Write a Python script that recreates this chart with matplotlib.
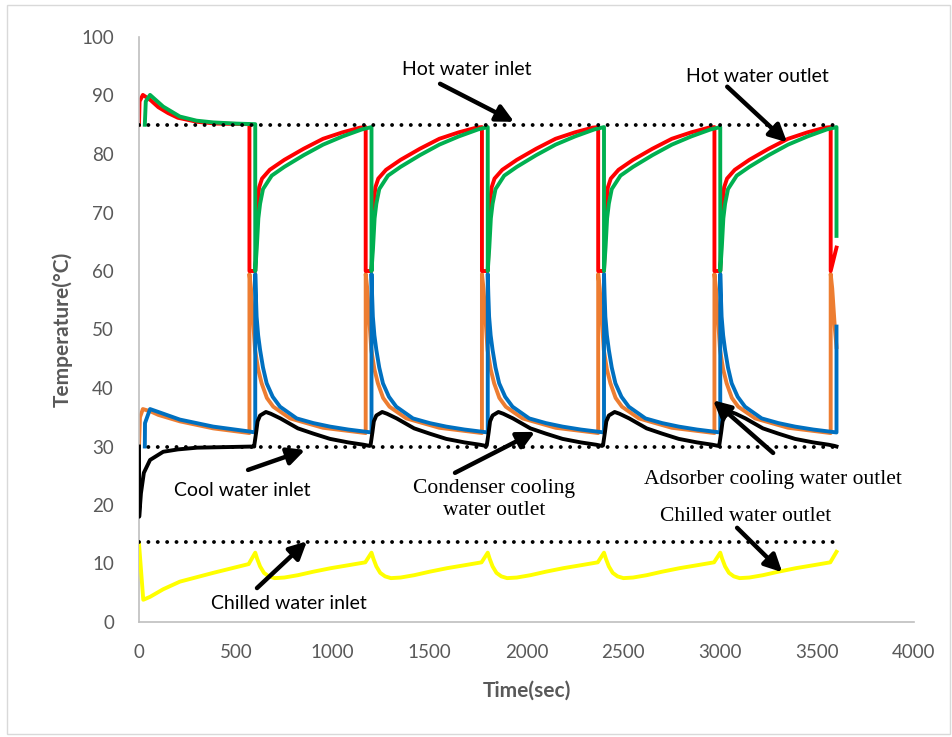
import numpy as np
import matplotlib
matplotlib.use("Agg")
import matplotlib.pyplot as plt
from matplotlib.patches import Rectangle

# cycle switch times (s); the periods look the same in the picture,
# so one period of readings is reused for each of them
cycle_starts = [600, 1200, 1800, 2400, 3000]

# hot water outlet, bed 1 (red)
red_first_t = [0, 3, 20, 60, 100, 150, 200, 300, 400, 570]
red_first_v = [85, 89, 90.1, 89.2, 88, 87, 86.2, 85.5, 85.2, 85.1]
red_tau = [-30, 0, 5, 10, 20, 35, 75, 150, 250, 350, 450, 540, 570]
red_cyc = [60, 60, 65, 71, 74.3, 75.8, 77.3, 79, 80.9, 82.6, 83.7, 84.5, 84.6]
red_tail_t = [3570, 3600]
red_tail_v = [60, 64]

# hot water outlet, bed 2 (green)
green_first_t = [30, 35, 57, 125, 211, 297, 383, 500, 600]
green_first_v = [85, 89, 90.1, 88.1, 86.4, 85.7, 85.4, 85.2, 85.1]
green_tau = [0, 4, 8, 16, 25, 40, 85, 150, 250, 350, 450, 550, 600]
green_cyc = [60, 62, 64, 69, 71.5, 74, 76.3, 77.8, 79.8, 81.6, 83, 84.2, 84.6]
green_tail_t = [3600]
green_tail_v = [66]

# adsorber cooling water outlet, bed 1 (orange)
orange_first_t = [0, 5, 20, 60, 100, 211, 383, 570]
orange_first_v = [30, 35, 36.4, 36, 35.4, 34.3, 33.1, 32.3]
orange_tau = [-30, -22, -15, -8, -1, 15, 33, 60, 93, 180, 350, 570]
orange_cyc = [59.5, 57, 53.5, 50, 46.5, 43.2, 40.8, 38.3, 36.8, 34.8, 33.2, 32.3]
orange_tail_t = [3570, 3578, 3585, 3592, 3600]
orange_tail_v = [59.5, 57, 53.5, 50, 47]

# adsorber cooling water outlet, bed 2 (blue)
blue_first_t = [30, 31, 57, 100, 211, 383, 562, 600]
blue_first_v = [30, 34, 36.4, 35.9, 34.6, 33.4, 32.6, 32.4]
blue_tau = [0, 3, 7, 15, 25, 40, 59, 90, 128, 214, 300, 386, 480, 600]
blue_cyc = [59.5, 56, 52.2, 49, 46.5, 43.5, 40.8, 38.5, 36.8, 34.8, 34, 33.4, 32.9, 32.4]
blue_tail_t = [3600]
blue_tail_v = [50.5]

# condenser cooling water outlet (black)
black_first_t = [0, 1, 10, 25, 57, 125, 200, 300, 450, 595]
black_first_v = [30, 18, 22, 25.5, 27.7, 29.1, 29.5, 29.8, 29.9, 30]
black_tau = [-5, 5, 12, 25, 55, 80, 130, 220, 300, 386, 480, 560, 590]
black_cyc = [30.2, 32.5, 34.3, 35.3, 35.9, 35.6, 34.8, 33.1, 32.2, 31.3, 30.7, 30.3, 30.1]
black_tail_t = [3600]
black_tail_v = [30.0]

# chilled water outlet (yellow)
yellow_first_t = [0, 22, 57, 125, 211, 383, 566]
yellow_first_v = [13.4, 3.8, 4.3, 5.6, 6.9, 8.4, 9.9]
yellow_tau = [0, 10, 25, 45, 70, 100, 150, 220, 300, 390, 480, 568]
yellow_cyc = [11.85, 10.8, 9.5, 8.4, 7.8, 7.5, 7.6, 8.0, 8.6, 9.2, 9.7, 10.2]
yellow_tail_t = [3600]
yellow_tail_v = [12.0]

# inlet set points (dotted lines)
hot_inlet = 85
cool_inlet = 30
chilled_inlet = 13.6
inlet_t = [0, 3600]


def build(first_t, first_v, tau, cyc, tail_t, tail_v):
    t = list(first_t)
    v = list(first_v)
    for s in cycle_starts:
        t += [s + x for x in tau]
        v += list(cyc)
    return np.array(t + tail_t), np.array(v + tail_v)


fig = plt.figure(figsize=(9.53, 7.37), dpi=100)
ax = fig.add_axes([139 / 953, 1 - 622 / 737, (914 - 139) / 953, (622 - 37) / 737])

lw = 2.8
t, v = build(orange_first_t, orange_first_v, orange_tau, orange_cyc, orange_tail_t, orange_tail_v)
ax.plot(t, v, color="#ED7D31", lw=lw, zorder=2)
t, v = build(blue_first_t, blue_first_v, blue_tau, blue_cyc, blue_tail_t, blue_tail_v)
ax.plot(t, v, color="#0070C0", lw=lw, zorder=3)
t, v = build(red_first_t, red_first_v, red_tau, red_cyc, red_tail_t, red_tail_v)
ax.plot(t, v, color="#FF0000", lw=lw, zorder=2)
t, v = build(green_first_t, green_first_v, green_tau, green_cyc, green_tail_t, green_tail_v)
ax.plot(t, v, color="#00B050", lw=lw, zorder=3)
t, v = build(black_first_t, black_first_v, black_tau, black_cyc, black_tail_t, black_tail_v)
ax.plot(t, v, color="black", lw=lw, zorder=4)
t, v = build(yellow_first_t, yellow_first_v, yellow_tau, yellow_cyc, yellow_tail_t, yellow_tail_v)
ax.plot(t, v, color="#FFFF00", lw=lw, zorder=4)

for level in [hot_inlet, cool_inlet, chilled_inlet]:
    ax.plot(inlet_t, [level, level], color="black", lw=2.8,
            linestyle=(0, (0.01, 2.4)), dash_capstyle="round", zorder=5)

ax.set_xlim(0, 4000)
ax.set_ylim(0, 100)
ax.set_xticks(np.arange(0, 4001, 500))
ax.set_yticks(np.arange(0, 101, 10))
for sp in ["top", "right"]:
    ax.spines[sp].set_visible(False)
for sp in ["left", "bottom"]:
    ax.spines[sp].set_color("#BFBFBF")
    ax.spines[sp].set_linewidth(1.2)
ax.tick_params(length=0, labelsize=13.5, labelcolor="#595959")
ax.tick_params(axis="y", pad=18)
ax.tick_params(axis="x", pad=16)
for lab in ax.get_xticklabels() + ax.get_yticklabels():
    lab.set_family("Lato")

ax.set_xlabel("Time(sec)", fontsize=15, fontweight="bold", color="#595959", family="Lato", labelpad=14)
ax.set_ylabel("Temperature(°C)", fontsize=15, fontweight="bold", color="#595959", family="Lato", labelpad=6)

arrow = dict(arrowstyle="-|>", lw=3.2, color="black", mutation_scale=26, shrinkA=0, shrinkB=0)
sans = dict(family="Lato", fontsize=14, color="black", ha="center", va="center")
serif = dict(family="Liberation Serif", fontsize=15.5, color="black", ha="center", va="center")

ax.text(1693, 94.4, "Hot water inlet", **sans)
ax.annotate("", xy=(1936, 85.5), xytext=(1554, 92), arrowprops=arrow, zorder=6)
ax.text(3190, 93.3, "Hot water outlet", **sans)
ax.annotate("", xy=(3345, 82), xytext=(3036, 91.5), arrowprops=arrow, zorder=6)
ax.text(532, 22.4, "Cool water inlet", **sans)
ax.annotate("", xy=(857, 29.4), xytext=(563, 26), arrowprops=arrow, zorder=6)
ax.text(1833, 20.9, "Condenser cooling\nwater outlet", linespacing=1.25, **serif)
ax.annotate("", xy=(2044, 32.5), xytext=(1631, 25.5), arrowprops=arrow, zorder=6)
ax.text(3273, 24.4, "Adsorber cooling water outlet", **serif)
ax.annotate("", xy=(2963, 37.9), xytext=(3273, 28.9), arrowprops=arrow, zorder=6)
ax.text(3129, 18.1, "Chilled water outlet", **serif)
ax.annotate("", xy=(3320, 8.5), xytext=(3087, 16.1), arrowprops=arrow, zorder=6)
ax.text(774, 3.1, "Chilled water inlet", **sans)
ax.annotate("", xy=(867, 13.8), xytext=(609, 5.8), arrowprops=arrow, zorder=6)

fig.patches.append(Rectangle((7 / 953, 3 / 737), 943 / 953, 729 / 737, transform=fig.transFigure,
                             fill=False, edgecolor="#D9D9D9", lw=1))

fig.savefig("out.png", dpi=100)
